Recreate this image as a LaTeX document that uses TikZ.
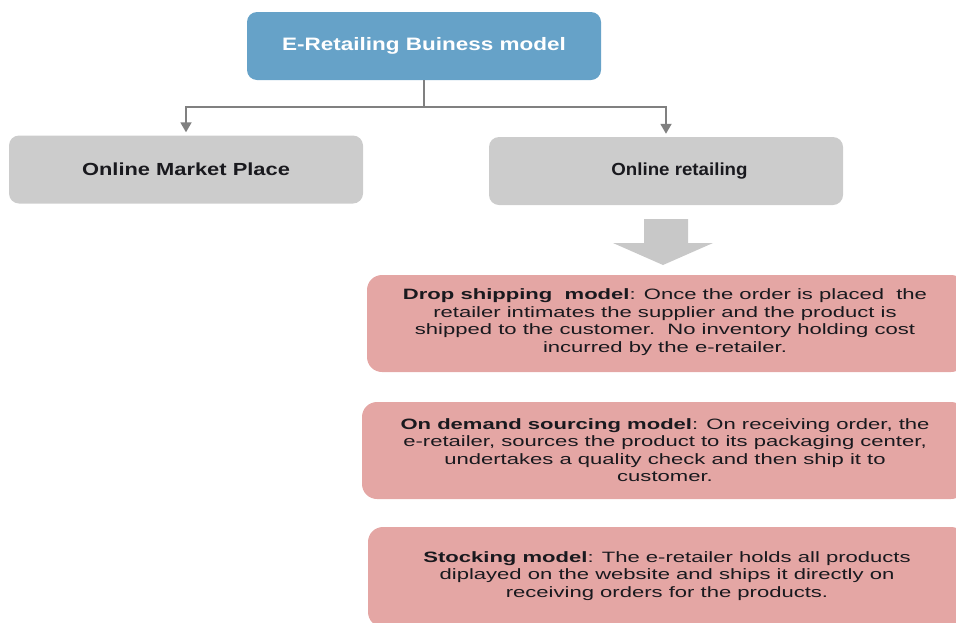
\documentclass[tikz,border=0pt]{standalone}
\usepackage{graphicx}
\usepackage{fontspec}
\setmainfont[FakeStretch=1.25]{Liberation Sans}
\newfontfamily\pinkfont[FakeStretch=1.47]{Liberation Sans}
\usetikzlibrary{arrows.meta}
\definecolor{topblue}{RGB}{102,162,200}
\definecolor{boxgray}{RGB}{204,204,204}
\definecolor{boxpink}{RGB}{228,166,164}
\definecolor{linegray}{RGB}{128,128,128}
\definecolor{arrowgray}{RGB}{200,200,200}
\definecolor{textdark}{RGB}{25,25,30}
\tikzset{
  topbox/.style={fill=topblue, rounded corners=10pt, minimum width=354pt, minimum height=68pt,
    text=white, font=\fontsize{18}{21}\selectfont\bfseries, inner sep=0pt},
  graybox/.style={fill=boxgray, rounded corners=10pt, minimum width=354pt, minimum height=68pt,
    text=textdark, font=\fontsize{17.5}{21}\selectfont\bfseries, inner sep=0pt},
  pinkbox/.style={fill=boxpink, rounded corners=15pt, inner sep=0pt},
  pinktext/.style={text=textdark, align=center, font=\pinkfont\fontsize{15}{17.5}\selectfont, inner sep=0pt},
  conn/.style={draw=linegray, line width=1.8pt},
  connarrow/.style={conn, -{Triangle[width=11pt,length=10pt]}, shorten >=3pt},
  blockarrow/.style={fill=arrowgray},
}
\begin{document}
\begin{tikzpicture}[x=1pt,y=-1pt]
\useasboundingbox (0,0) rectangle (956,622);
\clip (0,0) rectangle (956,622);

\node[topbox] (top) at (424,46) {E-Retailing Buiness model};
\node[graybox] (omp) at (186,169.5) {Online Market Place};
\node[graybox] (oret) at (666,171) {\hspace*{27pt}\scalebox{0.855}[1]{Online retailing}};

\coordinate (hub) at (424,107);
\draw[conn] (top.south) -- (hub);
\draw[connarrow] (hub) -| (omp.north);
\draw[connarrow] (hub) -| (oret.north);

% block arrow
\fill[blockarrow] (644,219) -- (688,219) -- (688,243) -- (713,243) -- (663,265)
  -- (613,243) -- (644,243) -- cycle;

% pink boxes
\node[pinkbox, minimum width=599pt, minimum height=97pt] (b1) at (666.5,323.5) {};
\node[pinkbox, minimum width=604pt, minimum height=97pt] (b2) at (664,450.5) {};
\node[pinkbox, minimum width=598pt, minimum height=100pt] (b3) at (667,577) {};

\node[pinktext] (t1) at (665,322) {\textbf{Drop shipping\ \ model}: Once the order is placed\ \ the\\
retailer intimates the supplier and the product is\\
shipped to the customer.\ \ No inventory holding cost\\
incurred by the e-retailer.};
\node[pinktext] (t2) at (665,450) {\textbf{On demand sourcing model}: On receiving order, the\\
e-retailer, sources the product to its packaging center,\\
undertakes a quality check and then ship it to\\
customer.};
\node[pinktext] (t3) at (667,576) {\textbf{Stocking model}: The e-retailer holds all products\\
diplayed on the website and ships it directly on\\
receiving orders for the products.};
\end{tikzpicture}
\end{document}
